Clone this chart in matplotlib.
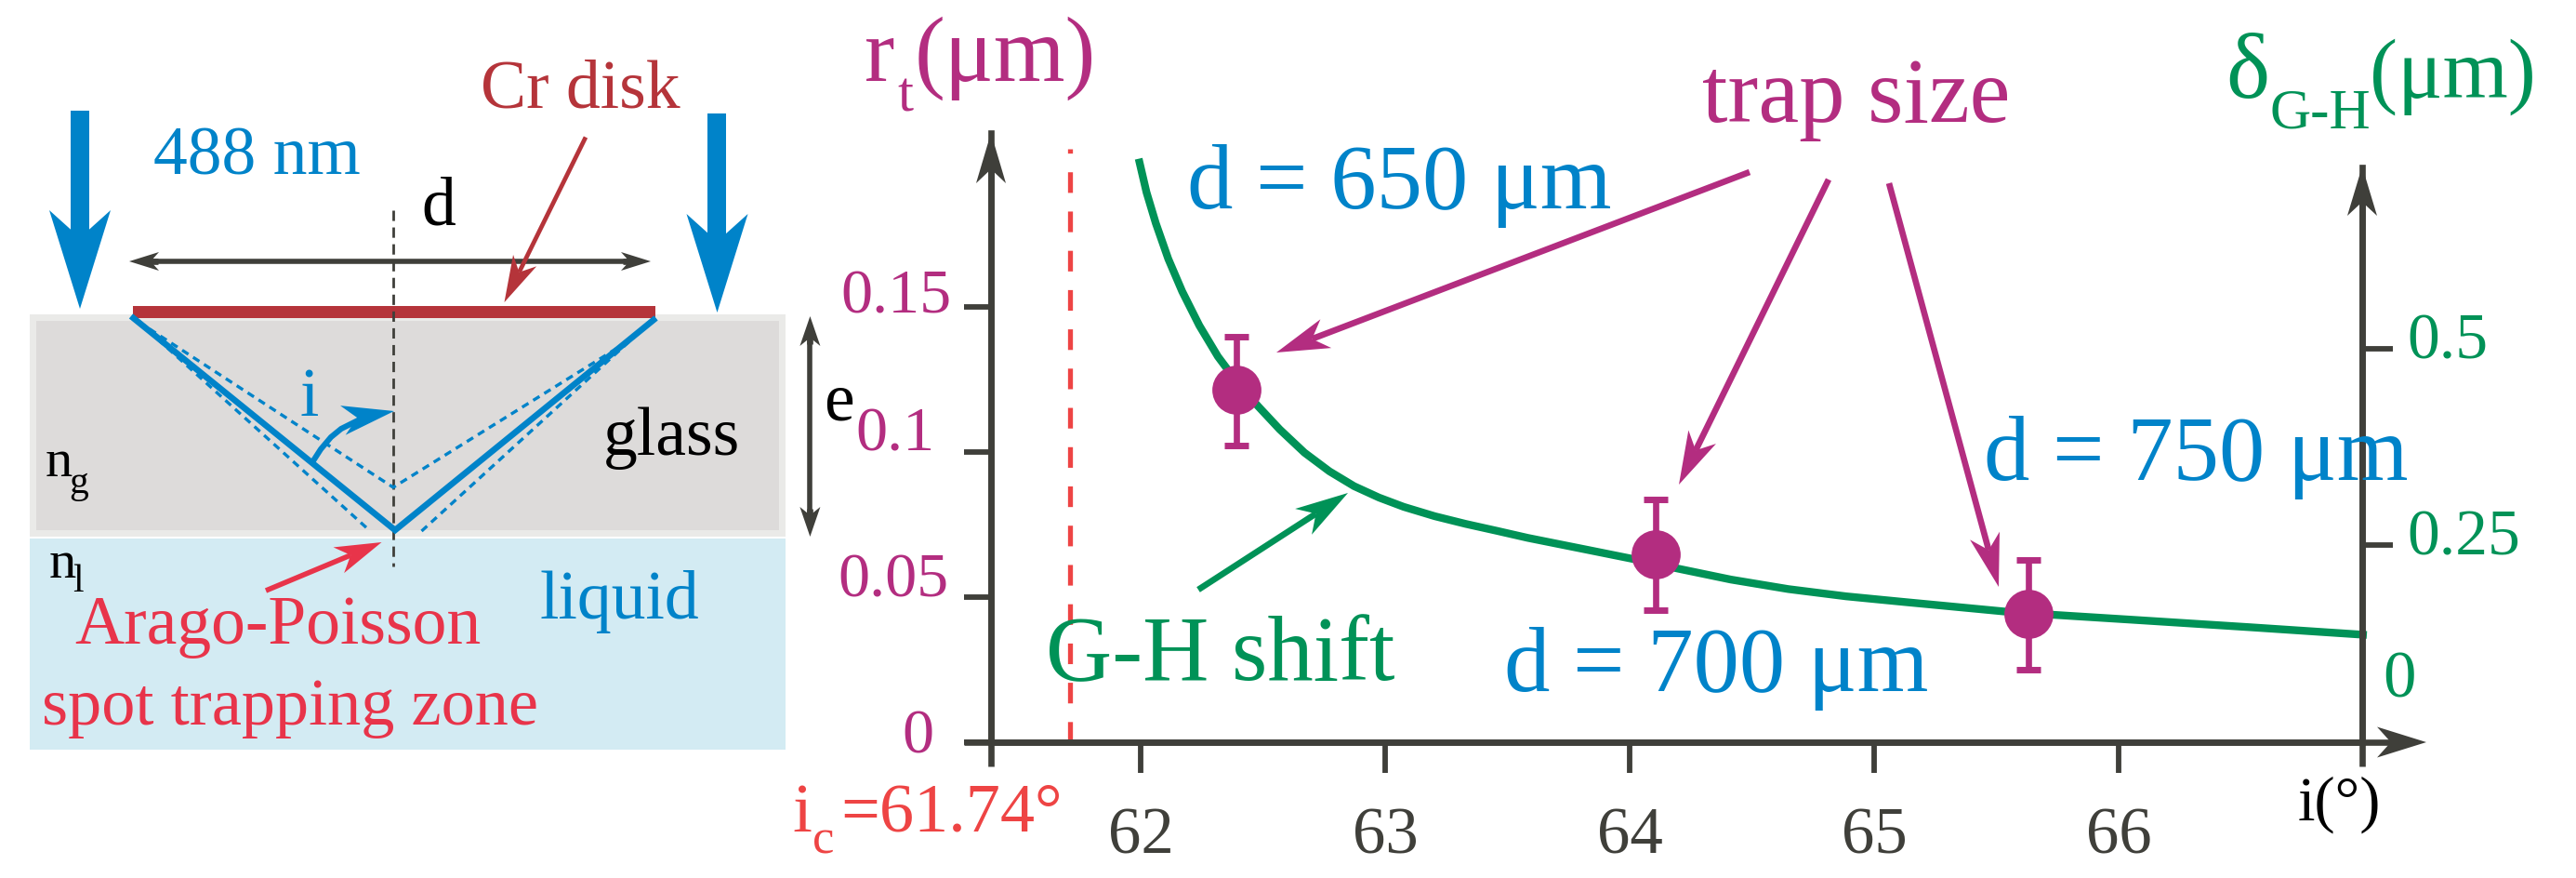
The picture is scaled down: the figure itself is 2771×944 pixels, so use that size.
import matplotlib
matplotlib.use('Agg')
import matplotlib.pyplot as plt
from matplotlib.patches import Rectangle, Polygon
from matplotlib.transforms import ScaledTranslation
import numpy as np

# G-H shift curve, right axis
i_curve = [61.992, 62.024, 62.062, 62.113, 62.170, 62.240, 62.316, 62.392, 62.480,
           62.569, 62.670, 62.772, 62.873, 62.975, 63.076, 63.203, 63.330, 63.456,
           63.583, 63.710, 63.837, 64.010, 64.204, 64.414, 64.649, 64.885, 65.120,
           65.530, 65.733, 66.062, 66.533, 67.015]
delta_curve = [0.7415, 0.6989, 0.6596, 0.6143, 0.5729, 0.5296, 0.4902, 0.4586, 0.4271,
               0.3975, 0.3680, 0.3443, 0.3254, 0.3109, 0.2991, 0.2872, 0.2774, 0.2687,
               0.2597, 0.2518, 0.2439, 0.2331, 0.2202, 0.2067, 0.1946, 0.1854, 0.1783,
               0.1662, 0.1619, 0.1555, 0.1462, 0.1363]

# trap size points, left axis
i_points = [62.392, 64.105, 65.631]
r_points = [0.1217, 0.0648, 0.0443]
r_high = [0.1399, 0.0837, 0.0629]
r_low = [0.1024, 0.0455, 0.0250]

i_ticks = [62, 63, 64, 65, 66]
r_ticks = [0, 0.05, 0.1, 0.15]
r_labels = ['0', '0.05', '0.1', '0.15']
delta_ticks = [0.25, 0.5]
delta_labels = ['0.25', '0.5']
i_critical = 61.71

W, H = 2771, 944
SERIF = ['Liberation Serif', 'DejaVu Serif']
BLUE = '#0083C9'
RED = '#E8344A'
CR = '#B5343A'
MAGENTA = '#B32D80'
GREEN = '#009257'
DARK = '#3F3F3A'
CRIT = '#EE4444'

plt.rcParams['font.family'] = SERIF

fig = plt.figure(figsize=(W / 100, H / 100), dpi=100)

# chart axes
ax = fig.add_axes([1066 / W, (H - 798) / H, 1475 / W, 655 / H])
ax2 = ax.twinx()
ax.set_zorder(ax2.get_zorder() + 1)
ax.patch.set_visible(False)
ax.set_xlim(61.388, 66.996)
ax.set_ylim(0, 0.2101)
ax2.set_ylim(0, 0.7742)

ax2.plot(i_curve, delta_curve, color=GREEN, lw=6, clip_on=False, solid_capstyle='butt')
ax.plot([i_critical, i_critical], [0, 0.2045], color=CRIT, lw=3.8,
        linestyle=(0, (4.2, 3.8)))
yerr = [np.array(r_points) - np.array(r_low), np.array(r_high) - np.array(r_points)]
ax.errorbar(i_points, r_points, yerr=yerr, fmt='none', ecolor=MAGENTA,
            elinewidth=4.8, capsize=9.4, capthick=5, zorder=5)
ax.plot(i_points, r_points, 'o', color=MAGENTA, ms=38, mew=0, zorder=6)

for a in (ax, ax2):
    a.spines['top'].set_visible(False)
ax2.spines['left'].set_visible(False)
ax2.spines['bottom'].set_visible(False)
for name in ('left', 'bottom'):
    ax.spines[name].set_linewidth(4.8)
    ax.spines[name].set_color(DARK)
ax.spines['right'].set_visible(False)
ax2.spines['right'].set_linewidth(4.8)
ax2.spines['right'].set_color(DARK)
ax2.spines['right'].set_bounds(0, 0.73)

ax.set_xticks(i_ticks)
ax.tick_params(axis='x', length=24, width=4.2, color=DARK, labelcolor=DARK,
               labelsize=51, pad=26)
ax.set_yticks(r_ticks)
ax.set_yticklabels(r_labels)
ax.tick_params(axis='y', length=21, width=4.2, color=DARK, labelcolor=MAGENTA,
               labelsize=49, pad=3)
ax2.set_yticks(delta_ticks)
ax2.set_yticklabels(delta_labels)
ax2.tick_params(axis='y', length=24, width=4.2, color=DARK, labelcolor=GREEN,
                labelsize=50, pad=11)

# nudge the labels off their ticks as in the original
r_shift = [(-28, 12), (-12, 24), (-27, 25), (-9, 17)]
for lab, (dx, dy) in zip(ax.get_yticklabels(), r_shift):
    lab.set_transform(lab.get_transform() + ScaledTranslation(dx / 100, dy / 100, fig.dpi_scale_trans))
for lab in ax2.get_yticklabels():
    lab.set_transform(lab.get_transform() + ScaledTranslation(0, 14 / 100, fig.dpi_scale_trans))

# overlay in image pixels for the schematic and annotations
ov = fig.add_axes([0, 0, 1, 1], zorder=10)
ov.set_xlim(0, W)
ov.set_ylim(H, 0)
ov.axis('off')


def txt(x, y, s, color, size):
    ov.text(x, y, s, color=color, fontsize=size, va='baseline', ha='left')


def head(tip, back, color, length, width, notch=0.28):
    tip = np.array(tip, float)
    back = np.array(back, float)
    u = (tip - back) / np.hypot(*(tip - back))
    n = np.array([-u[1], u[0]])
    base = tip - u * length
    inner = tip - u * length * (1 - notch)
    ov.add_patch(Polygon([tip, base + n * width / 2, inner, base - n * width / 2],
                         closed=True, fc=color, ec='none', zorder=4))
    return inner


def arrow(start, tip, color, lw=4.8, length=57, width=33):
    inner = head(tip, start, color, length, width)
    ov.plot([start[0], inner[0]], [start[1], inner[1]], color=color, lw=lw,
            solid_capstyle='butt', zorder=3)


# schematic background
ov.add_patch(Rectangle((32, 338), 813, 239, fc='#EAEAE8', ec='none'))
ov.add_patch(Rectangle((39, 345), 799, 225, fc='#DDDBDA', ec='none'))
ov.add_patch(Rectangle((32, 579), 813, 227, fc='#D3EBF3', ec='none'))
ov.add_patch(Rectangle((143.5, 329), 561.5, 13, fc=CR, ec='none', zorder=3))

ov.plot([423, 423], [226, 609], color=DARK, lw=2, linestyle=(0, (4, 2.5)), zorder=3)

# rays
for xs, ys in (([149, 423, 666], [346, 524, 373]),
               ([149, 396], [346, 569]),
               ([453.5, 700], [571, 346])):
    ov.plot(xs, ys, color=BLUE, lw=2.4, linestyle=(0, (2.4, 1.8)), zorder=3)
ov.plot([143.5, 425, 703], [342, 570, 344], color=BLUE, lw=4.8, zorder=3,
        solid_joinstyle='miter')

# big incident arrows
arrow((86, 119), (86, 332), BLUE, lw=14.4, length=106, width=66)
arrow((771.5, 122), (771.5, 336), BLUE, lw=14.4, length=106, width=66)

# d and e double arrows
arrow((170, 281), (139, 281), DARK, length=32, width=20)
arrow((670, 281), (700, 281), DARK, length=32, width=20)
ov.plot([160, 680], [281, 281], color=DARK, lw=4, solid_capstyle='butt', zorder=3)
arrow((871.4, 370), (871.4, 340), DARK, length=32, width=22)
arrow((871.4, 547), (871.4, 577), DARK, length=32, width=22)
ov.plot([871.4, 871.4], [360, 557], color=DARK, lw=4, solid_capstyle='butt', zorder=3)

arrow((630, 147.5), (542.5, 325), CR, lw=3.4, length=50, width=28)
arrow((286, 635), (410.5, 583), RED, lw=4, length=50, width=30)

# curved incidence angle arrow
ov.plot([336, 345, 356, 367, 385, 402], [497, 483, 470, 461, 452, 446], color=BLUE,
        lw=4.4, solid_capstyle='butt', zorder=3)
head((424, 442), (385, 449), BLUE, 56, 32)

txt(517, 116, 'Cr disk', CR, 53)
txt(165, 188, '488 nm', BLUE, 53)
txt(453, 242, 'd', 'black', 53)
txt(323, 447, 'i', BLUE, 53)
txt(649, 489, 'glass', 'black', 53)
txt(886, 451, 'e', 'black', 53)
txt(49, 512, 'n', 'black', 42)
txt(74, 530, 'g', 'black', 30)
txt(53, 621, 'n', 'black', 42)
txt(78, 636, 'l', 'black', 30)
txt(581, 665, 'liquid', BLUE, 53)
txt(80, 692, 'Arago-Poisson', RED, 53)
txt(45, 779, 'spot trapping zone', RED, 52)

# chart axis arrows and extensions
arrow((1066, 824), (1066, 143), DARK, lw=4.8, length=54, width=32)
arrow((2541, 824), (2541, 179), DARK, lw=4.8, length=53, width=32)
arrow((1037, 798), (2610, 798), DARK, lw=4.8, length=53, width=33)

# chart annotations
arrow((1882, 185), (1373, 379), MAGENTA)
arrow((1967, 193), (1806, 521), MAGENTA)
arrow((2032, 197), (2150, 631), MAGENTA)
arrow((1289, 634), (1450, 530), GREEN)

txt(1277, 224, 'd = 650 μm', BLUE, 71)
txt(1618.5, 743, 'd = 700 μm', BLUE, 71)
txt(2134, 516, 'd = 750 μm', BLUE, 71)
txt(1831, 131, 'trap size', MAGENTA, 71)
txt(1125.5, 731, 'G-H shift', GREEN, 71)

txt(930, 87, 'r', MAGENTA, 70)
txt(965, 119, 't', MAGENTA, 44)
txt(984, 87, '(μm)', MAGENTA, 71)
txt(2394, 105, 'δ', GREEN, 72)
txt(2442, 138, 'G-H', GREEN, 44)
txt(2549, 105, '(μm)', GREEN, 65)
txt(2563, 749, '0', GREEN, 51)

txt(852, 894, 'i', CRIT, 54)
txt(874, 918, 'c', CRIT, 38)
txt(904, 894, '=61.74°', CRIT, 53.5)
txt(2472, 882, 'i(°)', 'black', 48)

fig.savefig('out.png', dpi=100)
